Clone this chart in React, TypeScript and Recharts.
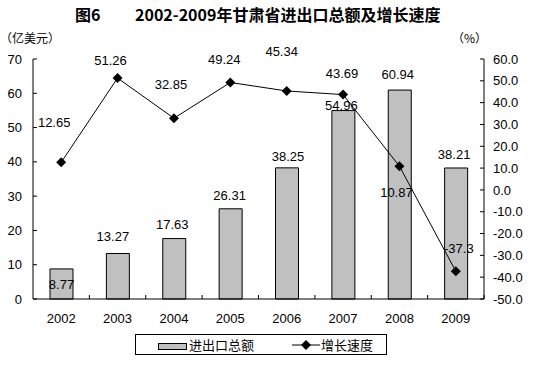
import React from "react";
import {
  ComposedChart,
  Bar,
  Line,
  XAxis,
  YAxis,
  LabelList,
} from "recharts";

const years = ["2002", "2003", "2004", "2005", "2006", "2007", "2008", "2009"];
const totals = [8.77, 13.27, 17.63, 26.31, 38.25, 54.96, 60.94, 38.21];
const growth = [12.65, 51.26, 32.85, 49.24, 45.34, 43.69, 10.87, -37.3];
const leftTicks = [0, 10, 20, 30, 40, 50, 60, 70];
const rightTicks = [-50, -40, -30, -20, -10, 0, 10, 20, 30, 40, 50, 60];

const chartData = years.map((y, i) => ({ year: y, total: totals[i], growth: growth[i] }));

// hand-placed label nudges (like the Excel original)
const barLabelShift: [number, number][] = [
  [0, 16], [-5, -17], [-2, -14], [-1, -13], [1, -11], [-2, -5], [-2, -16], [-2, -13],
];
const lineLabelShift: [number, number][] = [
  [-7, -40], [-7, -18], [-3, -34], [-6, -23], [-5, -39], [-1, -21], [-3, 26], [3, -23],
];

const W = 534;
const H = 365;
const PLOT_L = 33;
const PLOT_R = 484;
const BAND = (PLOT_R - PLOT_L) / years.length;
const numFont = "'Liberation Sans', Arial, sans-serif";
const cjkFont = "'Noto Sans CJK SC', sans-serif";

const BarLabel = (props: any) => {
  const { x, y, width, value, index } = props;
  const [dx, dy] = barLabelShift[index] || [0, -10];
  return (
    <text x={x + width / 2 + dx} y={y + dy} textAnchor="middle" dominantBaseline="central"
      fontSize={13} fontFamily={numFont} fill="#000">
      {value}
    </text>
  );
};

const LineLabel = (props: any) => {
  const { x, y, value, index } = props;
  const [dx, dy] = lineLabelShift[index] || [0, -15];
  return (
    <text x={x + dx} y={y + dy} textAnchor="middle" dominantBaseline="central"
      fontSize={13} fontFamily={numFont} fill="#000">
      {value}
    </text>
  );
};

const Diamond = (props: any) => {
  const { cx, cy } = props;
  if (cx == null || cy == null) return null;
  const r = 5;
  return (
    <polygon points={`${cx},${cy - r} ${cx + r},${cy} ${cx},${cy + r} ${cx - r},${cy}`} fill="#000" />
  );
};

const YearTick = (props: any) => {
  const { x, y, payload } = props;
  const bx = x + BAND / 2;
  return (
    <g>
      <text x={x} y={y + 19} textAnchor="middle" dominantBaseline="central"
        fontSize={13} fontFamily={numFont} fill="#000">
        {payload.value}
      </text>
      <line x1={bx} x2={bx} y1={y} y2={y - 4} stroke="#000" />
    </g>
  );
};

export default function App() {
  return (
    <div style={{ position: "absolute", left: 0, top: 0, width: W, height: H, background: "#fff" }}>
      <div style={{ position: "absolute", left: 75, top: 2, fontFamily: cjkFont, fontWeight: 700, fontSize: 16, whiteSpace: "nowrap" }}>
        图6
      </div>
      <div style={{ position: "absolute", left: 135, top: 2, fontFamily: cjkFont, fontWeight: 700, fontSize: 16, whiteSpace: "nowrap" }}>
        2002-2009年甘肃省进出口总额及增长速度
      </div>
      <div style={{ position: "absolute", left: 0, top: 30, fontFamily: cjkFont, fontSize: 12, lineHeight: "16px", whiteSpace: "nowrap" }}>
        （亿美元）
      </div>
      <div style={{ position: "absolute", left: 452, top: 30, fontFamily: cjkFont, fontSize: 12, lineHeight: "16px", whiteSpace: "nowrap" }}>
        （%）
      </div>

      <ComposedChart width={W} height={H} data={chartData}
        margin={{ top: 59, right: 0, bottom: 36, left: 0 }}>
        <XAxis dataKey="year" axisLine={{ stroke: "#000" }} tickLine={false}
          tickSize={0} tickMargin={0} tick={<YearTick />} interval={0} height={30} />
        <YAxis yAxisId="left" orientation="left" domain={[0, 70]} ticks={leftTicks} width={33}
          axisLine={{ stroke: "#000" }} tickLine={{ stroke: "#000" }} tickSize={-4} tickMargin={15}
          tick={{ fill: "#000", fontSize: 13, fontFamily: numFont }} interval={0} />
        <YAxis yAxisId="right" orientation="right" domain={[-50, 60]} ticks={rightTicks} width={50}
          axisLine={{ stroke: "#000" }} tickLine={{ stroke: "#000" }} tickSize={-4} tickMargin={13}
          tick={{ fill: "#000", fontSize: 13, fontFamily: numFont }} interval={0}
          tickFormatter={(v: number) => v.toFixed(1)} />
        <Bar yAxisId="left" dataKey="total" fill="#c0c0c0" stroke="#000" strokeWidth={1}
          barSize={23} isAnimationActive={false}>
          <LabelList dataKey="total" content={<BarLabel />} />
        </Bar>
        <Line yAxisId="right" dataKey="growth" type="linear" stroke="#000" strokeWidth={1}
          dot={<Diamond />} activeDot={false} isAnimationActive={false}>
          <LabelList dataKey="growth" content={<LineLabel />} />
        </Line>
      </ComposedChart>

      <div style={{ position: "absolute", left: 135, top: 334, width: 252, height: 21, border: "1px solid #000", boxSizing: "border-box", fontFamily: cjkFont, fontSize: 13 }}>
        <div style={{ position: "absolute", left: 22, top: 8, width: 27, height: 5, background: "#c0c0c0", border: "1px solid #000" }} />
        <div style={{ position: "absolute", left: 53, top: 0, lineHeight: "19px", whiteSpace: "nowrap" }}>进出口总额</div>
        <svg style={{ position: "absolute", left: 156, top: 4 }} width={28} height={12}>
          <line x1={0} x2={28} y1={6} y2={6} stroke="#000" />
          <polygon points="14,1 19,6 14,11 9,6" fill="#000" />
        </svg>
        <div style={{ position: "absolute", left: 185, top: 0, lineHeight: "19px", whiteSpace: "nowrap" }}>增长速度</div>
      </div>
    </div>
  );
}
